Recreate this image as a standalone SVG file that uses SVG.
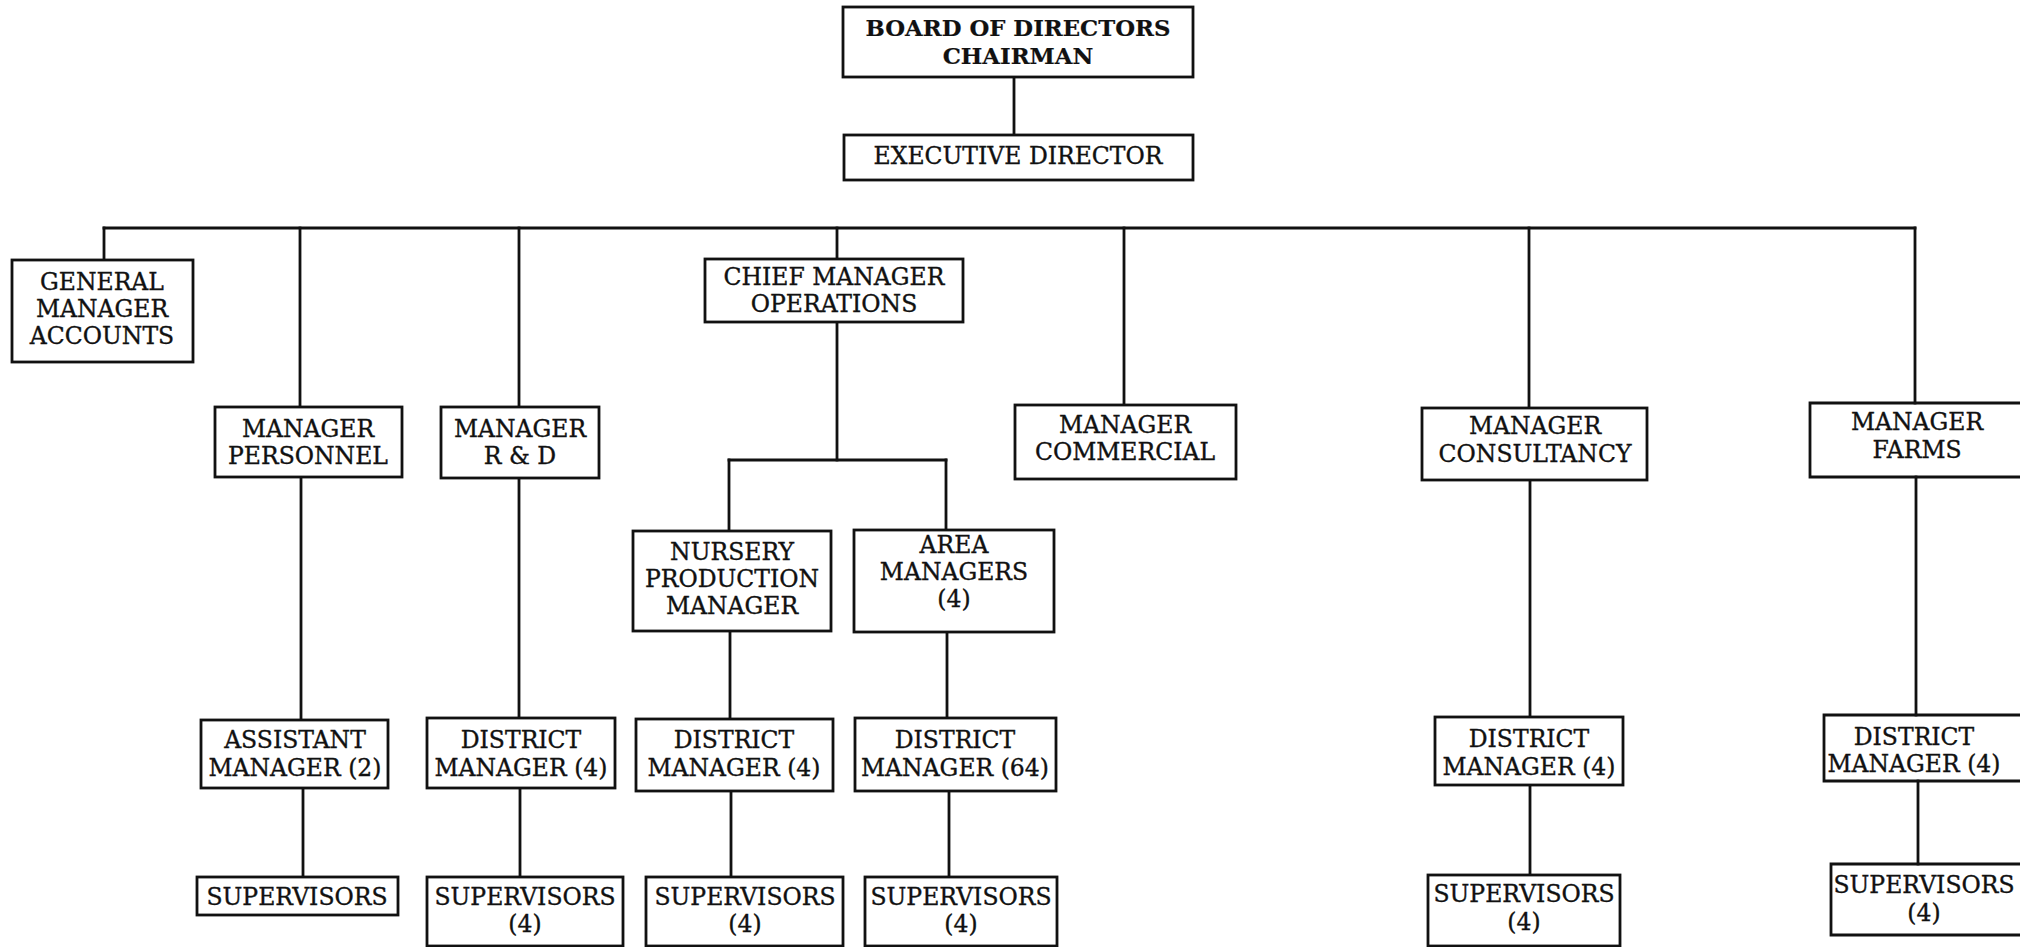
<svg xmlns="http://www.w3.org/2000/svg" width="2037" height="947" viewBox="0 0 2037 947">
<style>
  .box { fill: #ffffff; stroke: #111111; stroke-width: 2.8; }
  .open { fill: none; stroke: #111111; stroke-width: 2.8; }
  .ln { fill: none; stroke: #111111; stroke-width: 2.8; stroke-linecap: square; }
  text { font-family: "DejaVu Serif", "Liberation Serif", serif; font-size: 23.5px; fill: #111111; stroke: #111111; stroke-width: 0.35; text-anchor: middle; }
  .b { font-weight: bold; font-size: 22.8px; stroke-width: 0.2; }
</style>
<rect x="0" y="0" width="2037" height="947" fill="#ffffff"/>
<g id="connectors">
  <path class="ln" d="M1014,77 V135"/>
  <path class="ln" d="M104,228 H1915"/>
  <path class="ln" d="M104,228 V260"/>
  <path class="ln" d="M300,228 V407"/>
  <path class="ln" d="M519,228 V407"/>
  <path class="ln" d="M837,228 V259"/>
  <path class="ln" d="M1124,228 V405"/>
  <path class="ln" d="M1529,228 V408"/>
  <path class="ln" d="M1915,228 V403"/>
  <path class="ln" d="M837,322 V460"/>
  <path class="ln" d="M729,460 H946"/>
  <path class="ln" d="M729,460 V531"/>
  <path class="ln" d="M946,460 V530"/>
  <path class="ln" d="M301,477 V720"/>
  <path class="ln" d="M303,788 V877"/>
  <path class="ln" d="M519,478 V718"/>
  <path class="ln" d="M520,788 V877"/>
  <path class="ln" d="M730,631 V719"/>
  <path class="ln" d="M731,791 V877"/>
  <path class="ln" d="M947,632 V718"/>
  <path class="ln" d="M949,791 V877"/>
  <path class="ln" d="M1530,480 V717"/>
  <path class="ln" d="M1530,785 V875"/>
  <path class="ln" d="M1916,477 V715"/>
  <path class="ln" d="M1918,781 V864"/>
</g>
<g id="board">
  <rect class="box" x="843" y="7" width="350" height="70"/>
  <text class="b" x="1018" y="36">BOARD OF DIRECTORS</text>
  <text class="b" x="1018" y="64">CHAIRMAN</text>
</g>
<g id="exec">
  <rect class="box" x="844" y="135" width="349" height="45"/>
  <text x="1018" y="164">EXECUTIVE DIRECTOR</text>
</g>
<g id="gm-accounts">
  <rect class="box" x="12" y="260" width="181" height="102"/>
  <text x="102" y="290">GENERAL</text>
  <text x="102" y="317">MANAGER</text>
  <text x="102" y="344">ACCOUNTS</text>
</g>
<g id="mgr-personnel">
  <rect class="box" x="215" y="407" width="187" height="70"/>
  <text x="308" y="437">MANAGER</text>
  <text x="308" y="464">PERSONNEL</text>
</g>
<g id="mgr-rd">
  <rect class="box" x="441" y="407" width="158" height="71"/>
  <text x="520" y="437">MANAGER</text>
  <text x="520" y="464">R &amp; D</text>
</g>
<g id="chief-ops">
  <rect class="box" x="705" y="259" width="258" height="63"/>
  <text x="834" y="285">CHIEF MANAGER</text>
  <text x="834" y="312">OPERATIONS</text>
</g>
<g id="mgr-commercial">
  <rect class="box" x="1015" y="405" width="221" height="74"/>
  <text x="1125" y="433">MANAGER</text>
  <text x="1125" y="460">COMMERCIAL</text>
</g>
<g id="mgr-consultancy">
  <rect class="box" x="1422" y="408" width="225" height="72"/>
  <text x="1535" y="434">MANAGER</text>
  <text x="1535" y="462">CONSULTANCY</text>
</g>
<g id="mgr-farms">
  <path class="open" d="M2020,403 H1810 V477 H2020"/>
  <text x="1917" y="430">MANAGER</text>
  <text x="1917" y="458">FARMS</text>
</g>
<g id="nursery">
  <rect class="box" x="633" y="531" width="198" height="100"/>
  <text x="732" y="560">NURSERY</text>
  <text x="732" y="587">PRODUCTION</text>
  <text x="732" y="614">MANAGER</text>
</g>
<g id="area-managers">
  <rect class="box" x="854" y="530" width="200" height="102"/>
  <text x="954" y="553">AREA</text>
  <text x="954" y="580">MANAGERS</text>
  <text x="954" y="607">(4)</text>
</g>
<g id="asst-manager">
  <rect class="box" x="201" y="720" width="187" height="68"/>
  <text x="295" y="748">ASSISTANT</text>
  <text x="295" y="776">MANAGER (2)</text>
</g>
<g id="district-rd">
  <rect class="box" x="427" y="718" width="188" height="70"/>
  <text x="521" y="748">DISTRICT</text>
  <text x="521" y="776">MANAGER (4)</text>
</g>
<g id="district-nursery">
  <rect class="box" x="636" y="719" width="197" height="72"/>
  <text x="734" y="748">DISTRICT</text>
  <text x="734" y="776">MANAGER (4)</text>
</g>
<g id="district-area">
  <rect class="box" x="855" y="718" width="201" height="73"/>
  <text x="955" y="748">DISTRICT</text>
  <text x="955" y="776">MANAGER (64)</text>
</g>
<g id="district-consultancy">
  <rect class="box" x="1435" y="717" width="188" height="68"/>
  <text x="1529" y="747">DISTRICT</text>
  <text x="1529" y="775">MANAGER (4)</text>
</g>
<g id="district-farms">
  <path class="open" d="M2020,715 H1824 V781 H2020"/>
  <text x="1914" y="745">DISTRICT</text>
  <text x="1914" y="772">MANAGER (4)</text>
</g>
<g id="sup-personnel">
  <rect class="box" x="197" y="877" width="201" height="38"/>
  <text x="297" y="905">SUPERVISORS</text>
</g>
<g id="sup-rd">
  <rect class="box" x="427" y="877" width="196" height="69"/>
  <text x="525" y="905">SUPERVISORS</text>
  <text x="525" y="932">(4)</text>
</g>
<g id="sup-nursery">
  <rect class="box" x="646" y="877" width="197" height="69"/>
  <text x="745" y="905">SUPERVISORS</text>
  <text x="745" y="932">(4)</text>
</g>
<g id="sup-area">
  <rect class="box" x="865" y="877" width="192" height="69"/>
  <text x="961" y="905">SUPERVISORS</text>
  <text x="961" y="932">(4)</text>
</g>
<g id="sup-consultancy">
  <rect class="box" x="1428" y="875" width="192" height="71"/>
  <text x="1524" y="902">SUPERVISORS</text>
  <text x="1524" y="930">(4)</text>
</g>
<g id="sup-farms">
  <path class="open" d="M2020,864 H1831 V935 H2020"/>
  <text x="1924" y="893">SUPERVISORS</text>
  <text x="1924" y="921">(4)</text>
</g>
</svg>
